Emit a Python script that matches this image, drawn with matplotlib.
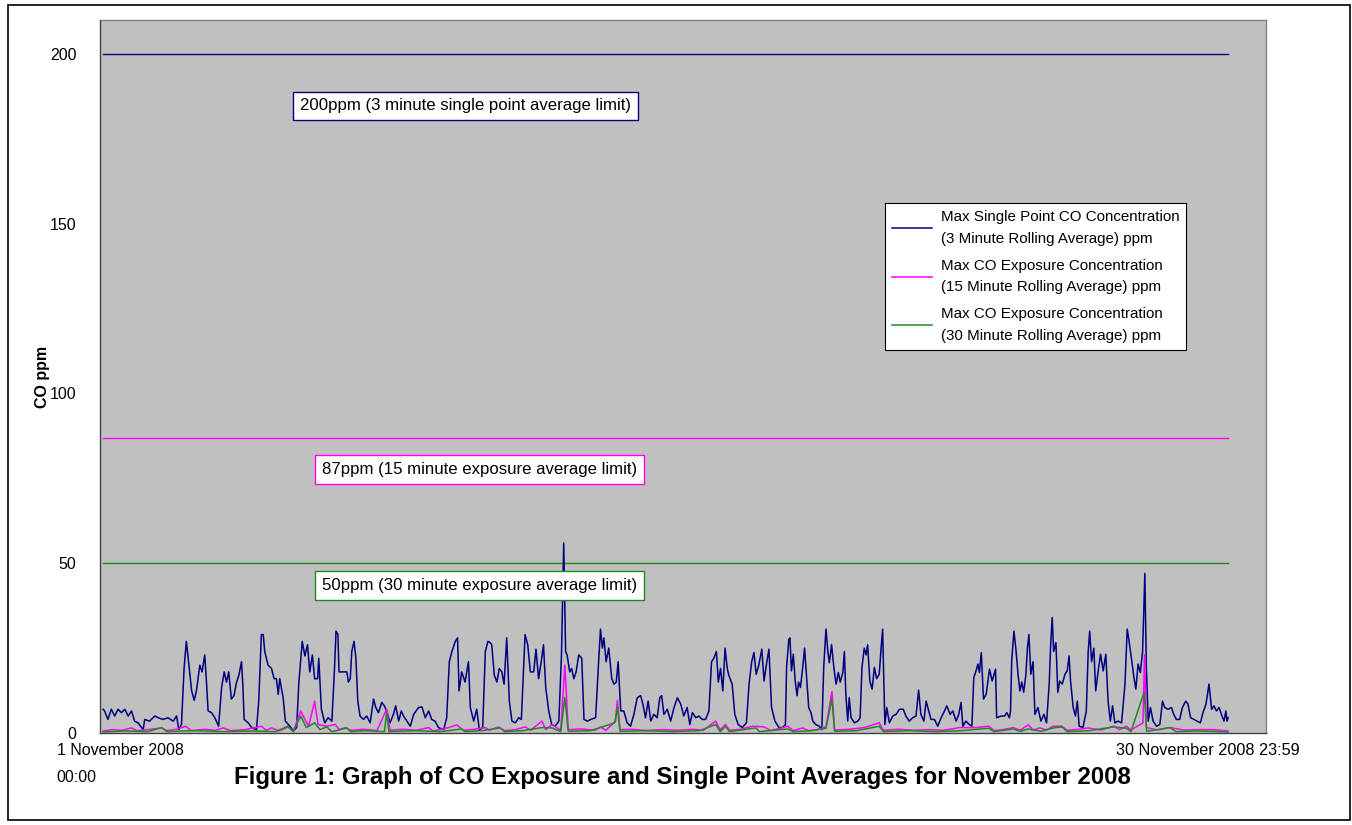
import matplotlib
matplotlib.use("Agg")
import matplotlib.pyplot as plt
from matplotlib.patches import Rectangle

plt.rcParams["font.family"] = ["Liberation Sans", "DejaVu Sans"]

# time in days since 1 Nov 2008 00:00, values in ppm
single_days = [
    0.00, 0.04, 0.13, 0.22, 0.31, 0.40, 0.49, 0.58, 0.67, 0.76,
    0.84, 0.93, 1.07, 1.11, 1.24, 1.38, 1.47, 1.60, 1.73, 1.87,
    1.96, 2.02, 2.09, 2.16, 2.22, 2.28, 2.36, 2.43, 2.49, 2.58,
    2.64, 2.71, 2.76, 2.80, 2.89, 2.98, 3.08, 3.16, 3.23, 3.29,
    3.35, 3.42, 3.49, 3.56, 3.62, 3.69, 3.73, 3.76, 3.87, 3.96,
    4.09, 4.15, 4.22, 4.27, 4.31, 4.40, 4.49, 4.56, 4.62, 4.67,
    4.71, 4.80, 4.86, 4.98, 5.07, 5.16, 5.22, 5.31, 5.38, 5.45,
    5.51, 5.58, 5.64, 5.72, 5.75, 5.82, 5.91, 6.00,
    6.10, 6.17, 6.21, 6.26, 6.29, 6.41, 6.50, 6.54, 6.59, 6.63,
    6.69, 6.74, 6.79, 6.85, 6.94, 7.03, 7.12, 7.21, 7.27, 7.34,
    7.43, 7.50, 7.56, 7.65, 7.74, 7.80, 7.88, 7.95, 8.01, 8.10,
    8.19, 8.28, 8.41, 8.50, 8.59, 8.68, 8.76, 8.85, 8.94, 9.08,
    9.16, 9.23, 9.30, 9.39, 9.45, 9.49, 9.56, 9.65, 9.74, 9.79,
    9.88, 9.96, 10.03, 10.12, 10.19, 10.26, 10.32, 10.36, 10.43, 10.50,
    10.56, 10.63, 10.69, 10.76, 10.83, 10.90, 10.99, 11.08, 11.15, 11.21,
    11.25, 11.32, 11.39, 11.48, 11.54, 11.61, 11.68, 11.74, 11.80, 11.88,
    11.96, 12.05,
    12.15, 12.22, 12.28, 12.33, 12.37, 12.44, 12.49, 12.55, 12.61, 12.68,
    12.76, 12.82, 12.91, 13.00, 13.13, 13.22, 13.26, 13.31, 13.35, 13.41,
    13.48, 13.56, 13.62, 13.68, 13.73, 13.80, 13.88, 13.97, 14.06, 14.15,
    14.24, 14.33, 14.39, 14.46, 14.53, 14.60, 14.68, 14.77, 14.84, 14.89,
    14.95, 15.04, 15.13, 15.22, 15.31, 15.40, 15.48, 15.57, 15.64, 15.71,
    15.80, 15.88, 15.97, 16.06, 16.15, 16.22, 16.28, 16.35, 16.40, 16.46,
    16.52, 16.58, 16.64, 16.68, 16.77, 16.84, 16.93, 17.04, 17.15, 17.22,
    17.29, 17.35, 17.41, 17.48, 17.56, 17.62, 17.68, 17.75, 17.82, 17.91,
    18.02, 18.11,
    18.19, 18.22, 18.28, 18.31, 18.35, 18.40, 18.45, 18.50, 18.54, 18.59,
    18.65, 18.70, 18.76, 18.81, 18.87, 18.92, 19.00, 19.09, 19.16, 19.21,
    19.27, 19.32, 19.36, 19.42, 19.48, 19.54, 19.60, 19.65, 19.72, 19.76,
    19.80, 19.85, 19.89, 19.94, 20.03, 20.12, 20.18, 20.23, 20.29, 20.34,
    20.38, 20.44, 20.50, 20.56, 20.62, 20.69, 20.74, 20.78, 20.84, 20.89,
    20.96, 21.05, 21.14, 21.23, 21.33, 21.40, 21.49, 21.58, 21.67, 21.74,
    21.80, 21.88, 21.94, 22.01, 22.07, 22.16, 22.25, 22.34, 22.43, 22.49,
    22.58, 22.65, 22.74, 22.81, 22.87, 22.92, 23.00, 23.09, 23.16, 23.21,
    23.27, 23.32, 23.36, 23.41, 23.47, 23.54, 23.63, 23.70, 23.79, 23.82,
    23.94, 24.03, 24.09, 24.16,
    24.19, 24.22, 24.28, 24.33, 24.39, 24.44, 24.49, 24.54, 24.60, 24.64,
    24.68, 24.73, 24.79, 24.84, 24.92, 25.00, 25.08, 25.15, 25.22, 25.26,
    25.30, 25.34, 25.40, 25.45, 25.50, 25.57, 25.64, 25.70, 25.75, 25.79,
    25.86, 25.92, 25.97, 26.02, 26.12, 26.21, 26.26, 26.30, 26.35, 26.41,
    26.46, 26.52, 26.59, 26.66, 26.73, 26.79, 26.85, 26.91, 26.97, 27.06,
    27.15, 27.24, 27.30, 27.35, 27.41, 27.48, 27.53, 27.59, 27.65, 27.71,
    27.77, 27.81, 27.86, 27.92, 27.99, 28.08, 28.17, 28.24, 28.30, 28.39,
    28.48, 28.54, 28.61, 28.70, 28.77, 28.86, 28.92, 28.99, 29.08, 29.16,
    29.25, 29.32, 29.40, 29.48, 29.55, 29.61, 29.68, 29.75, 29.81, 29.88,
    29.93, 29.96, 29.99,
]
single_ppm = [
    7.0, 6.5, 4.0, 7, 5, 7, 6, 7, 5, 6.5,
    3.5, 3, 1, 4, 3.5, 5, 4.5, 4, 4.5, 3.5,
    5, 1, 2.5, 19, 27, 21, 12.5, 9.6, 12.5, 20,
    18, 23, 14.5, 6.5, 6, 4.5, 2, 13.4, 18, 15,
    18, 10, 11, 15, 17, 21, 13.4, 4, 3, 1.6,
    1, 9.4, 29, 29, 24, 20, 19, 16, 16, 11.4,
    16, 10.4, 3.5, 2, 0.6, 1.6, 15, 27, 22.7, 26,
    18, 23, 16, 16, 22, 7, 3, 4.5,
    3.5, 19, 30, 29, 18, 18, 18, 15, 16, 24,
    27, 22, 9.4, 5, 4, 5, 3, 10, 7.5, 6,
    9, 8, 6.5, 3, 5.5, 8, 3.5, 6.5, 5, 3.5,
    2, 5.5, 7.5, 7.7, 4.5, 6.5, 4, 3.5, 1.6, 1,
    4.5, 21, 24, 27, 28, 12.4, 18, 15, 21, 7.5,
    3.5, 7, 1, 1.6, 24, 27, 26.6, 26, 17, 15,
    19, 18, 14.4, 28, 9.4, 3.5, 3, 4.5, 4, 19,
    29, 26, 18, 18, 24.7, 16, 21, 26, 13.4, 6.5,
    2.5, 2,
    3.5, 23, 56, 24, 23, 18, 19, 16, 18, 23,
    22, 4, 3.5, 4, 4.5, 23, 30.6, 25, 28, 21,
    25, 16, 14.4, 15, 21, 6.5, 6.5, 3, 2, 5.5,
    10.4, 11, 8.5, 4.5, 9.4, 3.5, 5.5, 4.5, 10.4, 11,
    5.5, 7, 3.5, 7.5, 10.4, 8.5, 5, 7.5, 2.5, 6,
    4.5, 5, 4, 4, 6.5, 21, 22, 24, 15, 19,
    12.4, 25, 19, 17, 14.4, 5.5, 2.5, 1.6, 3, 14.4,
    21, 23.7, 17.3, 20, 24.7, 15.3, 20, 24.7, 7.5, 3.5,
    1.6, 1.6,
    2.5, 19.3, 27.6, 28, 18.3, 23.2, 15.3, 11, 15, 13.4,
    19.3, 25, 15.3, 7.5, 6, 3.5, 2.5, 2, 1, 19.3,
    30.6, 24, 20.7, 26, 19.3, 14.4, 17.8, 15, 17.8, 24,
    11.4, 3.5, 10.4, 4.5, 3, 3.5, 4.5, 19.3, 25, 23,
    26, 15.3, 12.9, 19.3, 16, 17.3, 25, 30.6, 2.5, 7.5,
    3, 5, 5.5, 7, 7, 5, 3.5, 4.5, 5, 12.6,
    5.5, 3.5, 9.4, 6.5, 4, 4, 2, 4.5, 6.5, 8,
    5.5, 6.5, 3.5, 5.5, 9, 2, 3.5, 2.5, 2, 16.3,
    18.3, 20.3, 17.8, 23.7, 10, 11.4, 18.8, 15.3, 18.8, 4.5,
    5, 5, 6, 4.5,
    6.5, 21, 30, 25, 17.3, 12.4, 15, 12, 17.3, 25,
    29, 17.3, 21, 5.5, 7.5, 3.5, 5.5, 3, 14.4, 26,
    34, 24, 26.6, 12, 15.3, 14.4, 17.3, 18.3, 22.7, 15.3,
    7.5, 5, 9.4, 2, 1.6, 6.5, 24, 30, 21, 25,
    12.4, 17.8, 23.2, 18.3, 23.2, 9.4, 3.5, 8, 3, 3.5,
    3, 14.4, 30.6, 27, 22.2, 16.3, 12.9, 20.3, 17.8, 24,
    47, 19.3, 3.5, 7.5, 3.5, 2, 2.5, 9.4, 7.5, 7,
    7.5, 5.5, 4, 4, 7.5, 9.4, 8.5, 4.5, 4, 3.5,
    3, 6, 8.5, 14.4, 7, 8, 6.5, 7.5, 5.5, 3.5,
    6.5, 3.5, 4.5,
]

exp15_days = [
    0.0, 0.25, 0.5, 0.76, 0.9, 1.2, 1.56, 1.7, 1.95, 2.20,
    2.35, 2.7, 3.0, 3.20, 3.4, 3.8, 4.22, 4.35, 4.49, 4.7,
    4.93, 5.07, 5.27, 5.38, 5.48, 5.64, 5.73, 5.96, 6.19, 6.3,
    6.45, 6.6, 6.95, 7.3, 7.56, 7.65, 8.0, 8.35, 8.68, 8.8,
    9.21, 9.43, 9.6, 9.9, 10.19, 10.3, 10.54, 10.7, 11.0, 11.25,
    11.4, 11.70, 11.8, 11.97, 12.2, 12.31, 12.4, 12.75, 13.1, 13.26,
    13.4, 13.66, 13.71, 13.78, 14.1, 14.5, 14.9, 15.3, 15.7, 16.0,
    16.33, 16.45, 16.59, 16.7, 17.0, 17.31, 17.62, 17.8, 18.25, 18.4,
    18.65, 18.8, 19.05, 19.27, 19.43, 19.5, 19.9, 20.29, 20.69, 20.8,
    21.2, 21.6, 22.0, 22.4, 22.83, 23.27, 23.61, 23.75, 24.0, 24.26,
    24.45, 24.66, 24.8, 24.97, 25.15, 25.33, 25.55, 25.7, 26.0, 26.26,
    26.6, 26.94, 27.1, 27.28, 27.4, 27.72, 27.76, 27.81, 28.1, 28.44,
    28.8, 29.15, 29.6, 29.99,
]
exp15_ppm = [
    0.6, 1.0, 0.8, 1.5, 0.7, 1.0, 1.5, 0.7, 1.1, 2.0,
    0.7, 1.1, 0.8, 1.5, 0.7, 1.0, 2.0, 0.8, 1.5, 0.6,
    1.8, 0.5, 6.5, 4.0, 2.0, 9.4, 2.5, 2.0, 2.5, 1.0,
    1.6, 0.8, 1.1, 0.7, 7.0, 0.8, 1.1, 0.8, 1.6, 0.6,
    1.6, 2.4, 0.8, 1.1, 1.6, 0.8, 1.8, 0.7, 1.0, 1.8,
    0.8, 3.5, 1.0, 2.5, 0.8, 20, 1.0, 1.2, 0.8, 1.8,
    0.8, 3.5, 9.6, 1.0, 1.1, 0.7, 1.0, 0.8, 1.1, 0.8,
    3.5, 0.9, 2.5, 0.8, 1.1, 2.0, 1.8, 0.7, 2.0, 0.7,
    1.5, 0.7, 1.0, 1.8, 12.2, 0.9, 1.1, 1.6, 3.0, 0.8,
    1.1, 0.8, 1.0, 0.8, 1.6, 1.6, 2.0, 0.7, 1.0, 1.6,
    0.8, 2.4, 0.9, 1.5, 0.9, 2.0, 2.0, 0.8, 1.1, 1.5,
    0.9, 2.0, 1.0, 2.0, 0.9, 3.0, 23, 1.6, 0.9, 1.6,
    0.9, 1.0, 1.0, 0.6,
]

exp30_days = [
    0.0, 0.6, 1.2, 1.56, 1.7, 2.4, 3.2, 4.0, 4.6, 4.93,
    5.07, 5.27, 5.42, 5.64, 5.78, 5.96, 6.1, 6.50, 6.6, 7.0,
    7.5, 7.56, 7.62, 8.3, 9.0, 9.56, 9.65, 10.1, 10.59, 10.7,
    11.2, 11.70, 11.97, 12.2, 12.31, 12.4, 13.0, 13.64, 13.71, 13.78,
    14.5, 15.2, 15.9, 16.33, 16.45, 16.59, 16.7, 17.40, 17.5, 18.25,
    18.4, 18.9, 19.27, 19.43, 19.5, 20.1, 20.69, 20.8, 21.5, 22.2,
    22.9, 23.61, 23.75, 24.27, 24.45, 24.66, 25.0, 25.33, 25.57, 25.7,
    26.3, 26.94, 27.28, 27.4, 27.75, 27.82, 28.44, 28.6, 29.2, 29.99,
]
exp30_ppm = [
    0.3, 0.6, 0.4, 1.6, 0.4, 0.7, 0.4, 0.6, 0.4, 2.0,
    0.4, 5.0, 1.6, 3.0, 1.0, 1.8, 0.4, 1.5, 0.4, 0.7,
    0.4, 6.0, 0.4, 0.7, 0.4, 1.2, 0.4, 0.7, 1.5, 0.4,
    0.7, 1.6, 1.5, 0.4, 10.4, 0.5, 0.7, 3.0, 7.5, 0.5,
    0.7, 0.4, 0.7, 2.5, 0.4, 2.0, 0.4, 1.5, 0.4, 1.2,
    0.4, 0.7, 1.4, 10.0, 0.5, 0.7, 2.0, 0.4, 0.7, 0.4,
    0.7, 1.4, 0.4, 1.2, 0.5, 1.2, 0.5, 1.5, 1.8, 0.4,
    0.7, 1.8, 1.4, 0.4, 12.0, 0.5, 1.6, 0.4, 0.6, 0.3,
]

limit_values = [200, 87, 50]
limit_labels = [
    "200ppm (3 minute single point average limit)",
    "87ppm (15 minute exposure average limit)",
    "50ppm (30 minute exposure average limit)",
]
series_labels = [
    "Max Single Point CO Concentration\n(3 Minute Rolling Average) ppm",
    "Max CO Exposure Concentration\n(15 Minute Rolling Average) ppm",
    "Max CO Exposure Concentration\n(30 Minute Rolling Average) ppm",
]

NAVY = "#000080"
MAGENTA = "#FF00FF"
GREEN = "#1E8A1E"
colors = [NAVY, MAGENTA, GREEN]

fig = plt.figure(figsize=(13.52, 8.25), dpi=100)
fig.patches.append(Rectangle((0.006, 0.006), 0.9925, 0.988, transform=fig.transFigure,
                             fill=False, edgecolor="black", linewidth=1.2))

ax = fig.add_axes([0.074, 0.1115, 0.8624, 0.8643])
ax.set_facecolor("#C0C0C0")
for s in ax.spines.values():
    s.set_color("#808080")
    s.set_linewidth(1.0)
ax.spines["left"].set_color("#404040")
ax.spines["bottom"].set_color("#404040")

ax.set_xlim(-0.08, 31.0)
ax.set_ylim(0, 210)

# limit lines
for val, col in zip(limit_values, colors):
    ax.plot([0, 30], [val, val], color=col, linewidth=1.0, zorder=2)

ax.plot(single_days, single_ppm, color=NAVY, linewidth=1.1, label=series_labels[0], zorder=3)
ax.plot(exp15_days, exp15_ppm, color=MAGENTA, linewidth=1.1, label=series_labels[1], zorder=4)
ax.plot(exp30_days, exp30_ppm, color=GREEN, linewidth=1.1, label=series_labels[2], zorder=5)

# limit annotation boxes
box_pos = [(5.25, 184.7), (5.84, 77.6), (5.84, 43.4)]
for (bx, by), txt, col in zip(box_pos, limit_labels, colors):
    ax.text(bx, by, txt, fontsize=12.1, va="center", ha="left", zorder=6,
            bbox=dict(boxstyle="square,pad=0.4", facecolor="white", edgecolor=col, linewidth=1.0))

ax.set_yticks([0, 50, 100, 150, 200])
ax.set_xticks([])
ax.tick_params(axis="y", length=0, pad=17, labelsize=11.5)
ax.set_ylabel("CO ppm", fontsize=11.5, fontweight="bold", labelpad=0)

leg = ax.legend(loc="upper left", bbox_to_anchor=(0.673, 0.743), fontsize=10.9, frameon=True,
                fancybox=False, edgecolor="black", handlelength=2.7, labelspacing=0.85,
                borderpad=0.45, handletextpad=0.55, borderaxespad=0)
leg.get_frame().set_linewidth(0.8)
leg.get_frame().set_facecolor("white")
leg.get_frame().set_alpha(1.0)
for t in leg.get_texts():
    t.set_linespacing(1.7)

fig.text(0.042, 0.09, "1 November 2008", fontsize=11.5, ha="left", va="center")
fig.text(0.042, 0.057, "00:00", fontsize=11.5, ha="left", va="center")
fig.text(0.9615, 0.09, "30 November 2008 23:59", fontsize=11.7, ha="right", va="center")
fig.text(0.505, 0.057, "Figure 1: Graph of CO Exposure and Single Point Averages for November 2008",
         fontsize=17.3, fontweight="bold", ha="center", va="center")

fig.savefig("out.png", dpi=100)
